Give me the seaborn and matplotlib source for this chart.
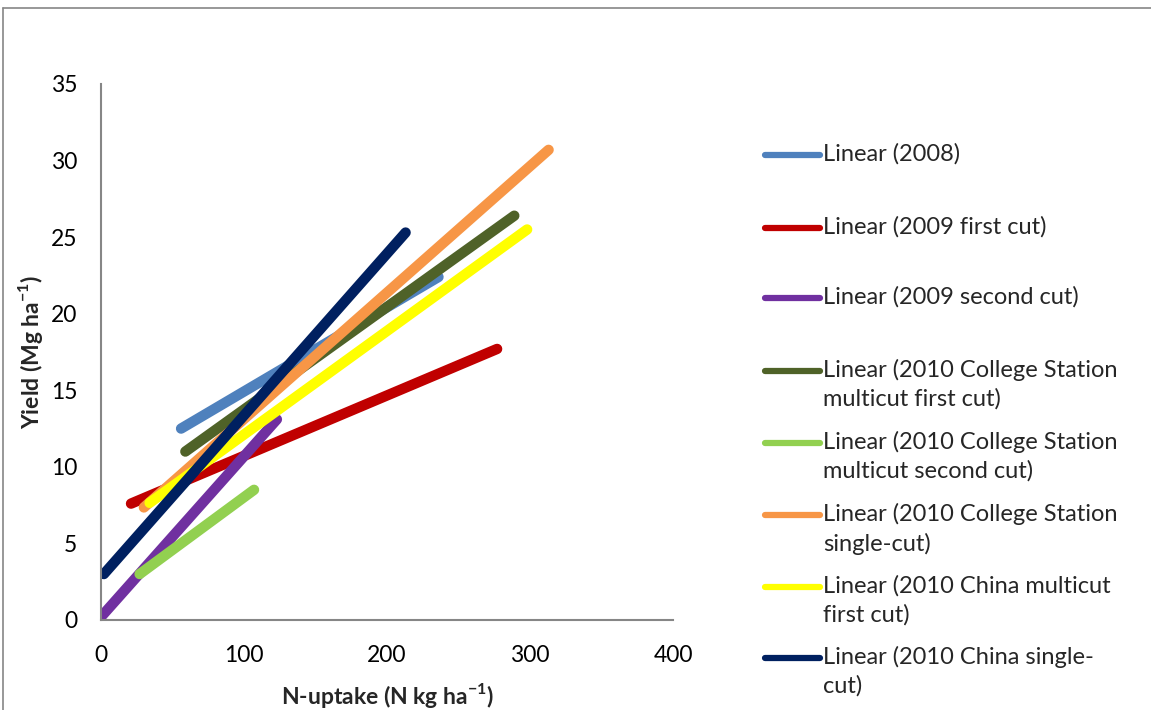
import matplotlib
matplotlib.use("Agg")
import matplotlib.pyplot as plt
from matplotlib.lines import Line2D
import seaborn as sns
import pandas as pd

labels = [
    "Linear (2008)",
    "Linear (2009 first cut)",
    "Linear (2009 second cut)",
    "Linear (2010 College Station\nmulticut first cut)",
    "Linear (2010 College Station\nmulticut second cut)",
    "Linear (2010 College Station\nsingle-cut)",
    "Linear (2010 China multicut\nfirst cut)",
    "Linear (2010 China single-\ncut)",
]
colors = ["#4f81bd", "#c00000", "#7030a0", "#4f6228", "#92d050", "#f79646", "#ffff00", "#002060"]
x_start = [56, 21, 0, 59, 27, 30, 34, 2]
x_end = [236, 277, 123, 289, 107, 313, 298, 213]
y_start = [12.5, 7.6, 0.2, 11.0, 3.0, 7.35, 7.65, 3.0]
y_end = [22.4, 17.7, 13.1, 26.4, 8.5, 30.7, 25.5, 25.3]

x_ticks = [0, 100, 200, 300, 400]
y_ticks = [0, 5, 10, 15, 20, 25, 30, 35]

sns.set_style("white")
plt.rcParams["font.family"] = ["Lato", "DejaVu Sans"]
FS = 16.5

fig = plt.figure(figsize=(11.51, 7.10), dpi=100)
ax = fig.add_axes([101 / 1151, 1 - 620 / 710, 572 / 1151, 536 / 710])

for i, lab in enumerate(labels):
    df = pd.DataFrame({"x": [x_start[i], x_end[i]], "y": [y_start[i], y_end[i]]})
    sns.lineplot(data=df, x="x", y="y", ax=ax, color=colors[i], linewidth=7.5,
                 solid_capstyle="round", legend=False, estimator=None, sort=False)

ax.set_xlim(0, 400)
ax.set_ylim(0, 35)
ax.set_xticks(x_ticks)
ax.set_yticks(y_ticks)
ax.tick_params(axis="both", labelsize=FS, colors="#868686", labelcolor="black",
               direction="out", length=6, width=1.2)
ax.tick_params(axis="y", pad=11)
ax.tick_params(axis="x", pad=12)
for s in ["top", "right"]:
    ax.spines[s].set_visible(False)
for s in ["left", "bottom"]:
    ax.spines[s].set_color("#868686")
    ax.spines[s].set_linewidth(1.5)

ax.set_xlabel("N-uptake (N kg ha$^{\\mathregular{-1}}$)", fontsize=FS, fontweight="bold", labelpad=11)
ax.set_ylabel("Yield (Mg ha$^{\\mathregular{-1}}$)", fontsize=FS, fontweight="bold", labelpad=4)

# legend drawn manually to match layout
row_y = [155, 228, 298, 371, 443, 515, 587, 658]
for i, lab in enumerate(labels):
    yy = 1 - row_y[i] / 710
    fig.add_artist(Line2D([765 / 1151, 820 / 1151], [yy, yy], transform=fig.transFigure,
                          color=colors[i], linewidth=4.5, solid_capstyle="round"))
    fig.text(823 / 1151, yy + 12 / 710, lab, fontsize=17, va="top", ha="left",
             transform=fig.transFigure, linespacing=1.42)

# outer chart frame
fig.add_artist(Line2D([3 / 1151, 3 / 1151], [0, 1 - 8 / 710], transform=fig.transFigure, color="#868686", linewidth=1.2))
fig.add_artist(Line2D([3 / 1151, 1], [1 - 8 / 710, 1 - 8 / 710], transform=fig.transFigure, color="#868686", linewidth=1.2))

fig.savefig("out.png", dpi=100)
